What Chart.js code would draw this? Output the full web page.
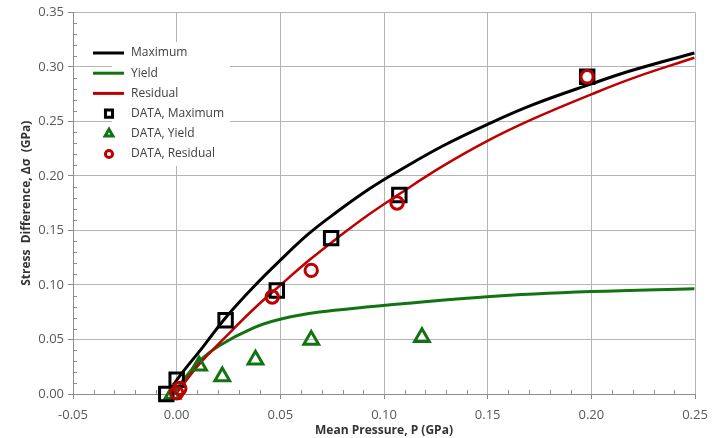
<!DOCTYPE html>
<html>
<head>
<meta charset="utf-8">
<title>Stress Difference vs Mean Pressure</title>
<script src="https://cdn.jsdelivr.net/npm/chart.js@4/dist/chart.umd.min.js"></script>
<style>
    html, body { margin: 0; padding: 0; background: #ffffff; }
    #wrap { width: 725px; height: 438px; }
</style>
</head>
<body>
<div id="wrap">
    <canvas id="stressChart" width="725" height="438"></canvas>
</div>
<script>

/* =========================
   DATA
========================= */

// model curves, mean pressure P (GPa) vs stress difference (GPa)
const maxLineP = [-0.004, 0.000, 0.0127, 0.0236, 0.0368, 0.0504, 0.064, 0.0769, 0.093, 0.1074, 0.1283, 0.1497, 0.1716, 0.200, 0.2198, 0.2497];
const maxLineS = [0.000, 0.0128, 0.0433, 0.0700, 0.0977, 0.1235, 0.1475, 0.1665, 0.1882, 0.2050, 0.2275, 0.2472, 0.2652, 0.2845, 0.2970, 0.3129];

const yieldLineP = [-0.002, 0.0107, 0.0207, 0.0368, 0.0504, 0.0689, 0.093, 0.1074, 0.1497, 0.200, 0.2497];
const yieldLineS = [0.000, 0.0295, 0.0445, 0.0605, 0.0688, 0.0752, 0.0800, 0.0826, 0.0893, 0.0940, 0.0966];

const resLineP = [-0.001, 0.000, 0.0107, 0.0236, 0.0368, 0.0504, 0.064, 0.0769, 0.093, 0.1074, 0.1283, 0.1497, 0.1716, 0.200, 0.2198, 0.2497];
const resLineS = [0.000, 0.001, 0.027, 0.0524, 0.0773, 0.1005, 0.1229, 0.1423, 0.1651, 0.1835, 0.2090, 0.2320, 0.2521, 0.2749, 0.2896, 0.3085];

// measured points
const maxDataP = [-0.005, 0.000, 0.0236, 0.0483, 0.0745, 0.1074, 0.198];
const maxDataS = [0.000, 0.013, 0.0676, 0.095, 0.143, 0.1825, 0.291];

const yieldDataP = [-0.002, 0.0108, 0.022, 0.038, 0.0649, 0.1183];
const yieldDataS = [0.000, 0.026, 0.016, 0.0315, 0.0495, 0.052];

const resDataP = [0.000, 0.0015, 0.0461, 0.0649, 0.1063, 0.198];
const resDataS = [0.001, 0.005, 0.089, 0.1134, 0.1752, 0.291];

const seriesLabels = ["Maximum", "Yield", "Residual", "DATA, Maximum", "DATA, Yield", "DATA, Residual"];

const xTicks = [-0.05, 0.00, 0.05, 0.10, 0.15, 0.20, 0.25];
const yTicks = [0.00, 0.05, 0.10, 0.15, 0.20, 0.25, 0.30, 0.35];


function pairs(xs, ys){
    return xs.map(function(x, i){ return { x: x, y: ys[i] }; });
}

const BLACK = '#000000';
const GREEN = '#137313';
const RED = '#c00000';


/* =========================
   MINOR TICKS PLUGIN
========================= */

const minorTicksPlugin = {
    id: 'minorTicks',

    beforeDatasetsDraw(chart) {
        const { ctx, chartArea: { left, bottom }, scales: { x, y } } = chart;

        ctx.save();
        ctx.strokeStyle = '#8c8c8c';
        ctx.lineWidth = 1;
        ctx.beginPath();

        // y: 0.01 steps, short marks inside the plot
        for(let i = 0; i <= 35; i++){
            if(i % 5 === 0) continue;
            const py = Math.round(y.getPixelForValue(i / 100)) + 0.5;
            ctx.moveTo(left, py);
            ctx.lineTo(left + 4, py);
        }

        // x: 0.01 steps, short marks pointing up
        for(let i = -5; i <= 25; i++){
            if(((i % 5) + 5) % 5 === 0) continue;
            const px = Math.round(x.getPixelForValue(i / 100)) + 0.5;
            ctx.moveTo(px, bottom);
            ctx.lineTo(px, bottom - 4);
        }

        ctx.stroke();
        ctx.restore();
    }
};


/* =========================
   LEGEND PLUGIN
========================= */

const boxLegendPlugin = {
    id: 'boxLegend',

    afterDraw(chart) {
        const ctx = chart.ctx;
        const sets = chart.data.datasets;

        const rowTop = 53;
        const rowStep = 20.2;
        const lineX0 = 93, lineX1 = 124;
        const textX = 131;

        ctx.save();
        ctx.fillStyle = '#ffffff';
        ctx.fillRect(112, 42, 118, 124);

        ctx.font = '12px "Open Sans"';
        ctx.textBaseline = 'middle';
        ctx.textAlign = 'left';

        sets.forEach(function(ds, i){
            const yy = rowTop + i * rowStep;

            if(ds.showLine){
                ctx.strokeStyle = ds.borderColor;
                ctx.lineWidth = 3;
                ctx.beginPath();
                ctx.moveTo(lineX0, yy);
                ctx.lineTo(lineX1, yy);
                ctx.stroke();
            }
            else{
                ctx.strokeStyle = ds.borderColor;
                ctx.fillStyle = 'rgba(0,0,0,0)';
                ctx.lineWidth = 3;
                Chart.helpers.drawPoint(ctx, {
                    pointStyle: ds.pointStyle,
                    radius: ds.legendRadius,
                    rotation: 0,
                    borderWidth: 3
                }, 109, yy);
            }

            ctx.fillStyle = '#404040';
            ctx.fillText(ds.label, textX, yy);
        });

        ctx.restore();
    }
};


/* =========================
   CHART
========================= */

const tickFont = { family: '"Open Sans"', size: 13 };
const titleFont = { family: '"Open Sans"', size: 12, weight: 'bold' };

const chart = new Chart(document.getElementById('stressChart'), {

    type: 'scatter',

    data: {
        datasets: [
            {
                label: seriesLabels[0],
                data: pairs(maxLineP, maxLineS),
                showLine: true,
                borderColor: BLACK,
                borderWidth: 3,
                pointRadius: 0,
                tension: 0.4,
                order: 6
            },
            {
                label: seriesLabels[1],
                data: pairs(yieldLineP, yieldLineS),
                showLine: true,
                borderColor: GREEN,
                borderWidth: 3,
                pointRadius: 0,
                tension: 0.4,
                order: 5
            },
            {
                label: seriesLabels[2],
                data: pairs(resLineP, resLineS),
                showLine: true,
                borderColor: RED,
                borderWidth: 2.5,
                pointRadius: 0,
                tension: 0.4,
                order: 4
            },
            {
                label: seriesLabels[3],
                data: pairs(maxDataP, maxDataS),
                showLine: false,
                pointStyle: 'rect',
                pointRadius: 9.5,
                legendRadius: 5,
                borderColor: BLACK,
                backgroundColor: 'rgba(0,0,0,0)',
                borderWidth: 3,
                clip: false,
                order: 2
            },
            {
                label: seriesLabels[4],
                data: pairs(yieldDataP, yieldDataS),
                showLine: false,
                pointStyle: 'triangle',
                pointRadius: 8.5,
                legendRadius: 4.5,
                borderColor: GREEN,
                backgroundColor: 'rgba(0,0,0,0)',
                borderWidth: 3,
                clip: false,
                order: 3
            },
            {
                label: seriesLabels[5],
                data: pairs(resDataP, resDataS),
                showLine: false,
                pointStyle: 'circle',
                pointRadius: 6.2,
                legendRadius: 3.6,
                borderColor: RED,
                backgroundColor: 'rgba(0,0,0,0)',
                borderWidth: 3,
                clip: false,
                order: 1
            }
        ]
    },

    options: {
        responsive: false,
        animation: false,
        devicePixelRatio: 1,
        events: [],

        layout: {
            padding: { top: 11, right: 30, bottom: 0, left: 0 }
        },

        plugins: {
            legend: { display: false },
            tooltip: { enabled: false }
        },

        scales: {
            x: {
                type: 'linear',
                min: xTicks[0],
                max: xTicks[xTicks.length - 1],
                afterBuildTicks(scale){
                    scale.ticks = xTicks.map(function(v){ return { value: v }; });
                },
                afterFit(scale){
                    scale.height = 44;
                },
                grid: {
                    color: '#b4b4b4',
                    tickColor: '#8c8c8c',
                    tickLength: 5
                },
                border: { color: '#8c8c8c' },
                ticks: {
                    font: tickFont,
                    color: '#595959',
                    padding: 8,
                    maxRotation: 0,
                    callback: function(v){ return v.toFixed(2); }
                },
                title: {
                    display: true,
                    text: 'Mean Pressure, P (GPa)',
                    font: titleFont,
                    color: '#333333',
                    padding: { top: 0, bottom: 0 }
                }
            },

            y: {
                type: 'linear',
                min: yTicks[0],
                max: yTicks[yTicks.length - 1],
                afterBuildTicks(scale){
                    scale.ticks = yTicks.map(function(v){ return { value: v }; });
                },
                afterFit(scale){
                    scale.width = 73;
                },
                grid: {
                    color: '#b4b4b4',
                    tickColor: '#8c8c8c',
                    tickLength: 5
                },
                border: { color: '#8c8c8c' },
                ticks: {
                    font: tickFont,
                    color: '#595959',
                    padding: 4,
                    callback: function(v){ return v.toFixed(2); }
                },
                title: {
                    display: true,
                    text: 'Stress  Difference, \u0394\u03c3  (GPa)',
                    font: titleFont,
                    color: '#333333',
                    padding: { top: 19, bottom: 0 }
                }
            }
        }
    },

    plugins: [minorTicksPlugin, boxLegendPlugin]
});

</script>
</body>
</html>
